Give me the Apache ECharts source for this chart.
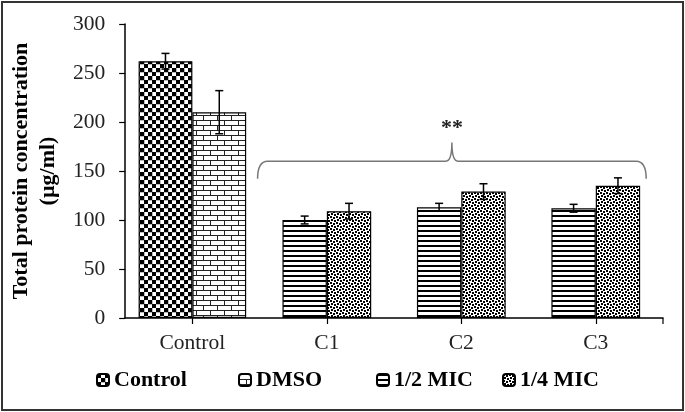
<!DOCTYPE html>
<html>
<head>
<meta charset="utf-8">
<script src="https://cdn.jsdelivr.net/npm/echarts@6/dist/echarts.min.js"></script>
<style>
html,body{margin:0;padding:0;background:#fff;}
#c{width:685px;height:412px;}
</style>
</head>
<body>
<div id="c"></div>
<script>
// ---- data ----
const categories = ['Control', 'C1', 'C2', 'C3'];
const controlValues = [262];
const controlErr = [8];
const dmsoValues = [210];
const dmsoErr = [22];
const halfMicValues = [100, 113, 112];   // C1, C2, C3
const halfMicErr = [4, 4, 4];
const quarterMicValues = [109, 129, 135]; // C1, C2, C3
const quarterMicErr = [8, 8, 8];
const yTicks = [0, 50, 100, 150, 200, 250, 300];
const braceLevel = 160;   // value where brace runs
const braceEnd = 142;     // value of brace ends
const braceTip = 179;     // value of brace tip
const starLevel = 194;    // value of "**" label
const signifText = '**';

// ---- patterns ----
function makeTile(w, h, draw) {
  const c = document.createElement('canvas');
  c.width = w; c.height = h;
  const g = c.getContext('2d');
  g.fillStyle = '#fff'; g.fillRect(0, 0, w, h);
  draw(g);
  return { image: c, repeat: 'repeat' };
}
const patChecker = makeTile(8, 8, g => {
  g.fillStyle = '#000';
  g.fillRect(0, 0, 4, 4);
  g.fillRect(4, 4, 4, 4);
  g.fillStyle = '#bbb';
  g.fillRect(4, 0, 4, 1);
  g.fillRect(0, 4, 1, 4);
});
const patBrick = makeTile(14, 10, g => {
  g.fillStyle = '#222';
  g.fillRect(0, 0, 14, 1);
  g.fillRect(0, 5, 14, 1);
  g.fillRect(0, 0, 1, 5);
  g.fillRect(7, 5, 1, 5);
});
const patStripes = makeTile(4, 5, g => {
  g.fillStyle = '#000';
  g.fillRect(0, 0, 4, 2);
});
const patDots = makeTile(6, 6, g => {
  g.fillStyle = '#000';
  g.fillRect(0, 0, 2, 2);
  g.fillRect(3, 1, 2, 2);
  g.fillRect(1, 3, 2, 2);
  g.fillRect(4, 4, 2, 2);
});

const CONTROL_FRAC = 0.40;
const MIC_FRAC = 0.33;
const font = 'Liberation Serif';

const ctrlData = categories.map((c, i) => i === 0 ? controlValues[0] : '-');
const dmsoData = categories.map((c, i) => i === 0 ? dmsoValues[0] : '-');
const halfData = categories.map((c, i) => i === 0 ? '-' : halfMicValues[i - 1]);
const quarterData = categories.map((c, i) => i === 0 ? '-' : quarterMicValues[i - 1]);

function barStyle(p) {
  return { color: p, borderColor: '#000', borderWidth: 1.2 };
}

function errSeries(name, frac, side, values, errs, catOffset) {
  return {
    type: 'custom', name: name, xAxisIndex: 0, z: 10, silent: true,
    data: values.map((v, i) => [i + catOffset, v, errs[i]]),
    renderItem: function (params, api) {
      const idx = api.value(0), v = api.value(1), e = api.value(2);
      const band = api.size([1, 0])[0];
      const dx = side * band * frac / 2;
      const top = api.coord([idx, v + e]);
      const bot = api.coord([idx, v - e]);
      const x = top[0] + dx;
      const cap = 4;
      const st = { stroke: '#000', lineWidth: 1.5 };
      return {
        type: 'group', children: [
          { type: 'line', shape: { x1: x, y1: top[1], x2: x, y2: bot[1] }, style: st },
          { type: 'line', shape: { x1: x - cap, y1: top[1], x2: x + cap, y2: top[1] }, style: st },
          { type: 'line', shape: { x1: x - cap, y1: bot[1], x2: x + cap, y2: bot[1] }, style: st }
        ]
      };
    }
  };
}

const braceSeries = {
  type: 'custom', name: 'brace', xAxisIndex: 0, z: 5, silent: true,
  data: [[1, 3]],
  renderItem: function (params, api) {
    const band = api.size([1, 0])[0];
    const a = api.coord([api.value(0), braceLevel]);
    const b = api.coord([api.value(1), braceLevel]);
    const L = a[0] - 0.515 * band;
    const R = b[0] + 0.375 * band;
    const mid = (L + R) / 2;
    const yH = a[1];
    const yE = api.coord([1, braceEnd])[1];
    const yT = api.coord([1, braceTip])[1];
    const yS = api.coord([1, starLevel])[1];
    const d = 'M' + L + ' ' + yE +
      ' Q' + L + ' ' + yH + ' ' + (L + 10) + ' ' + yH +
      ' L' + (mid - 6) + ' ' + yH +
      ' Q' + mid + ' ' + yH + ' ' + mid + ' ' + yT +
      ' Q' + mid + ' ' + yH + ' ' + (mid + 6) + ' ' + yH +
      ' L' + (R - 10) + ' ' + yH +
      ' Q' + R + ' ' + yH + ' ' + R + ' ' + yE;
    return {
      type: 'group', children: [
        { type: 'path', shape: { pathData: d }, style: { stroke: '#777', lineWidth: 1.5, fill: null } },
        { type: 'text', x: mid, y: yS, style: { text: signifText, font: 'bold 22px "Liberation Serif"', fill: '#222', textAlign: 'center', textVerticalAlign: 'middle' } }
      ]
    };
  }
};

// right-end tick of the category axis
const endTickSeries = {
  type: 'custom', name: 'endTick', xAxisIndex: 0, z: 6, silent: true,
  data: [[categories.length - 1, 0]],
  renderItem: function (params, api) {
    const band = api.size([1, 0])[0];
    const p = api.coord([api.value(0), api.value(1)]);
    const x = p[0] + band / 2;
    return { type: 'line', shape: { x1: x, y1: p[1], x2: x, y2: p[1] + 6 }, style: { stroke: '#000', lineWidth: 1.2 } };
  }
};

const legendText = { fontFamily: font, fontWeight: 'bold', fontSize: 22, color: '#000' };
function lg(name, left) {
  return { data: [name], left: left, top: 369, itemWidth: 12, itemHeight: 12, itemGap: 4, textStyle: legendText, selectedMode: false, padding: 0 };
}

const chart = echarts.init(document.getElementById('c'), null, { renderer: 'canvas' });
chart.setOption({
  animation: false,
  backgroundColor: '#fff',
  grid: { left: 120, right: 22, top: 24, bottom: 94, containLabel: false },
  legend: [lg('Control', 96), lg('DMSO', 238), lg('1/2 MIC', 376), lg('1/4 MIC', 502)],
  xAxis: [
    {
      type: 'category', data: categories,
      axisLine: { lineStyle: { color: '#000', width: 1.5 } },
      axisTick: { show: true, alignWithLabel: true, length: 6, lineStyle: { color: '#000', width: 1.2 } },
      axisLabel: { fontFamily: font, fontSize: 21.5, color: '#222', margin: 14 }
    },
    { type: 'category', data: categories, show: false }
  ],
  yAxis: {
    type: 'value', min: 0, max: 300, interval: 50,
    name: 'Total protein concentration\n(µg/ml)',
    nameLocation: 'middle', nameRotate: 90, nameGap: 58,
    nameTextStyle: { fontFamily: font, fontWeight: 'bold', fontSize: 22, color: '#000', lineHeight: 27 },
    axisLine: { show: true, lineStyle: { color: '#000', width: 1.5 } },
    axisTick: { show: true, length: 6, lineStyle: { color: '#000', width: 1.2 } },
    splitLine: { show: false },
    axisLabel: { fontFamily: font, fontSize: 21.5, color: '#222', margin: 20,
      formatter: v => (yTicks.indexOf(v) >= 0 ? String(v) : '') }
  },
  series: [
    { type: 'bar', name: 'Control', xAxisIndex: 0, data: ctrlData, barWidth: (CONTROL_FRAC * 100) + '%', barGap: '0%', itemStyle: barStyle(patChecker) },
    { type: 'bar', name: 'DMSO', xAxisIndex: 0, data: dmsoData, barWidth: (CONTROL_FRAC * 100) + '%', barGap: '0%', itemStyle: barStyle(patBrick) },
    { type: 'bar', name: '1/2 MIC', xAxisIndex: 1, data: halfData, barWidth: (MIC_FRAC * 100) + '%', barGap: '0%', itemStyle: barStyle(patStripes) },
    { type: 'bar', name: '1/4 MIC', xAxisIndex: 1, data: quarterData, barWidth: (MIC_FRAC * 100) + '%', barGap: '0%', itemStyle: barStyle(patDots) },
    errSeries('errControl', CONTROL_FRAC, -1, controlValues, controlErr, 0),
    errSeries('errDMSO', CONTROL_FRAC, 1, dmsoValues, dmsoErr, 0),
    errSeries('errHalf', MIC_FRAC, -1, halfMicValues, halfMicErr, 1),
    errSeries('errQuarter', MIC_FRAC, 1, quarterMicValues, quarterMicErr, 1),
    braceSeries,
    endTickSeries
  ],
  graphic: [
    { type: 'rect', z: 100, silent: true, shape: { x: 2, y: 2, width: 681, height: 408 }, style: { fill: null, stroke: '#333', lineWidth: 2 } }
  ]
});
</script>
</body>
</html>
